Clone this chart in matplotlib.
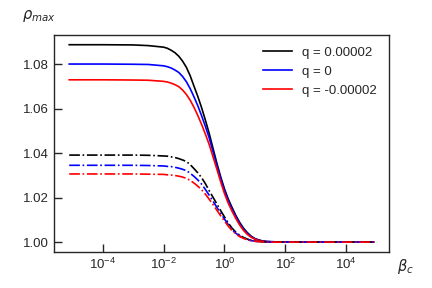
import numpy as np
import matplotlib
matplotlib.use("Agg")
import matplotlib.pyplot as plt

# beta_c sample points (log10)
log_beta = [-5.1, -4, -3, -2.5,
            -2, -1.875, -1.75, -1.625, -1.5, -1.375, -1.25, -1.125,
            -1, -0.875, -0.75, -0.625, -0.5, -0.375, -0.25, -0.125,
            0, 0.125, 0.25, 0.375, 0.5, 0.625, 0.75, 0.875,
            1, 1.125, 1.25, 1.375, 1.5,
            2, 3, 4, 4.9]

# solid curves
rho_pos = [1.0889, 1.0889, 1.0888, 1.0885,
           1.0878, 1.0873, 1.0864, 1.0853, 1.0837, 1.0815, 1.0787, 1.0749,
           1.0702, 1.0656, 1.0605, 1.0549, 1.0489, 1.0422, 1.0356, 1.0295,
           1.0240, 1.0194, 1.0156, 1.0120, 1.0089, 1.0063, 1.0043, 1.0027,
           1.0016, 1.0010, 1.0005, 1.0003, 1.0002,
           1.0, 1.0, 1.0, 1.0]
rho_zero = [1.0802, 1.0802, 1.0801, 1.0800,
            1.0794, 1.0790, 1.0784, 1.0775, 1.0764, 1.0746, 1.0722, 1.0691,
            1.0654, 1.0614, 1.0569, 1.0521, 1.0469, 1.0407, 1.0345, 1.0286,
            1.0233, 1.0187, 1.0148, 1.0114, 1.0084, 1.0059, 1.0040, 1.0025,
            1.0015, 1.0009, 1.0005, 1.0003, 1.0002,
            1.0, 1.0, 1.0, 1.0]
rho_neg = [1.0731, 1.0731, 1.0730, 1.0729,
           1.0724, 1.0721, 1.0716, 1.0709, 1.0700, 1.0685, 1.0665, 1.0639,
           1.0607, 1.0570, 1.0530, 1.0486, 1.0439, 1.0384, 1.0329, 1.0272,
           1.0219, 1.0175, 1.0139, 1.0106, 1.0077, 1.0053, 1.0035, 1.0022,
           1.0013, 1.0007, 1.0004, 1.0002, 1.0001,
           1.0, 1.0, 1.0, 1.0]

# dash-dot curves
rho_pos_dd = [1.0392, 1.0392, 1.0392, 1.0391,
              1.0388, 1.0387, 1.0384, 1.0381, 1.0376, 1.0370, 1.0363, 1.0349,
              1.0331, 1.0312, 1.0290, 1.0263, 1.0231, 1.0202, 1.0172, 1.0142,
              1.0114, 1.0086, 1.0063, 1.0045, 1.0031, 1.0021, 1.0014, 1.0008,
              1.0005, 1.0003, 1.0002, 1.0001, 1.0,
              1.0, 1.0, 1.0, 1.0]
rho_zero_dd = [1.0346, 1.0346, 1.0346, 1.0345,
               1.0343, 1.0341, 1.0340, 1.0337, 1.0333, 1.0328, 1.0322, 1.0310,
               1.0296, 1.0280, 1.0261, 1.0237, 1.0211, 1.0184, 1.0157, 1.0130,
               1.0104, 1.0079, 1.0057, 1.0040, 1.0028, 1.0019, 1.0012, 1.0007,
               1.0004, 1.0002, 1.0001, 1.0001, 1.0,
               1.0, 1.0, 1.0, 1.0]
rho_neg_dd = [1.0307, 1.0307, 1.0307, 1.0306,
              1.0305, 1.0303, 1.0302, 1.0300, 1.0297, 1.0293, 1.0287, 1.0278,
              1.0266, 1.0252, 1.0236, 1.0216, 1.0193, 1.0169, 1.0144, 1.0119,
              1.0095, 1.0072, 1.0052, 1.0037, 1.0025, 1.0017, 1.0011, 1.0006,
              1.0004, 1.0002, 1.0001, 1.0, 1.0,
              1.0, 1.0, 1.0, 1.0]

labels = ["q = 0.00002", "q = 0", "q = -0.00002"]
colors = ["black", "blue", "red"]

plt.rcParams["font.family"] = ["Liberation Sans", "DejaVu Sans"]
plt.rcParams["font.size"] = 9.5
plt.rcParams["text.color"] = "#262626"
plt.rcParams["xtick.color"] = "#262626"
plt.rcParams["ytick.color"] = "#262626"

beta = 10.0 ** np.array(log_beta)

fig = plt.figure(figsize=(4.32, 2.88), dpi=100)
ax = fig.add_axes([0.125, 0.125, 0.775, 0.754])

for vals, c, lab in zip([rho_pos, rho_zero, rho_neg], colors, labels):
    ax.plot(beta, vals, color=c, lw=1.2, label=lab)
for vals, c in zip([rho_pos_dd, rho_zero_dd, rho_neg_dd], colors):
    ax.plot(beta, vals, color=c, lw=1.2, linestyle="-.")

ax.set_xscale("log")
ax.set_xticks([1e-4, 1e-2, 1, 1e2, 1e4])
ax.minorticks_off()
ax.set_yticks([1.00, 1.02, 1.04, 1.06, 1.08])
ax.tick_params(direction="in", length=6, width=1, labelsize=9.5)

for s in ax.spines.values():
    s.set_color("#262626")
    s.set_linewidth(1.0)

ax.legend(loc="upper right", frameon=False, fontsize=9.5, handlelength=2.2)

fig.text(22 / 432, 1 - 16 / 288, r"$\rho_{max}$", fontsize=10.5, va="center")
fig.text(397 / 432, 1 - 266 / 288, r"$\beta_c$", fontsize=10.5, va="center")

fig.savefig("out.png", dpi=100)
